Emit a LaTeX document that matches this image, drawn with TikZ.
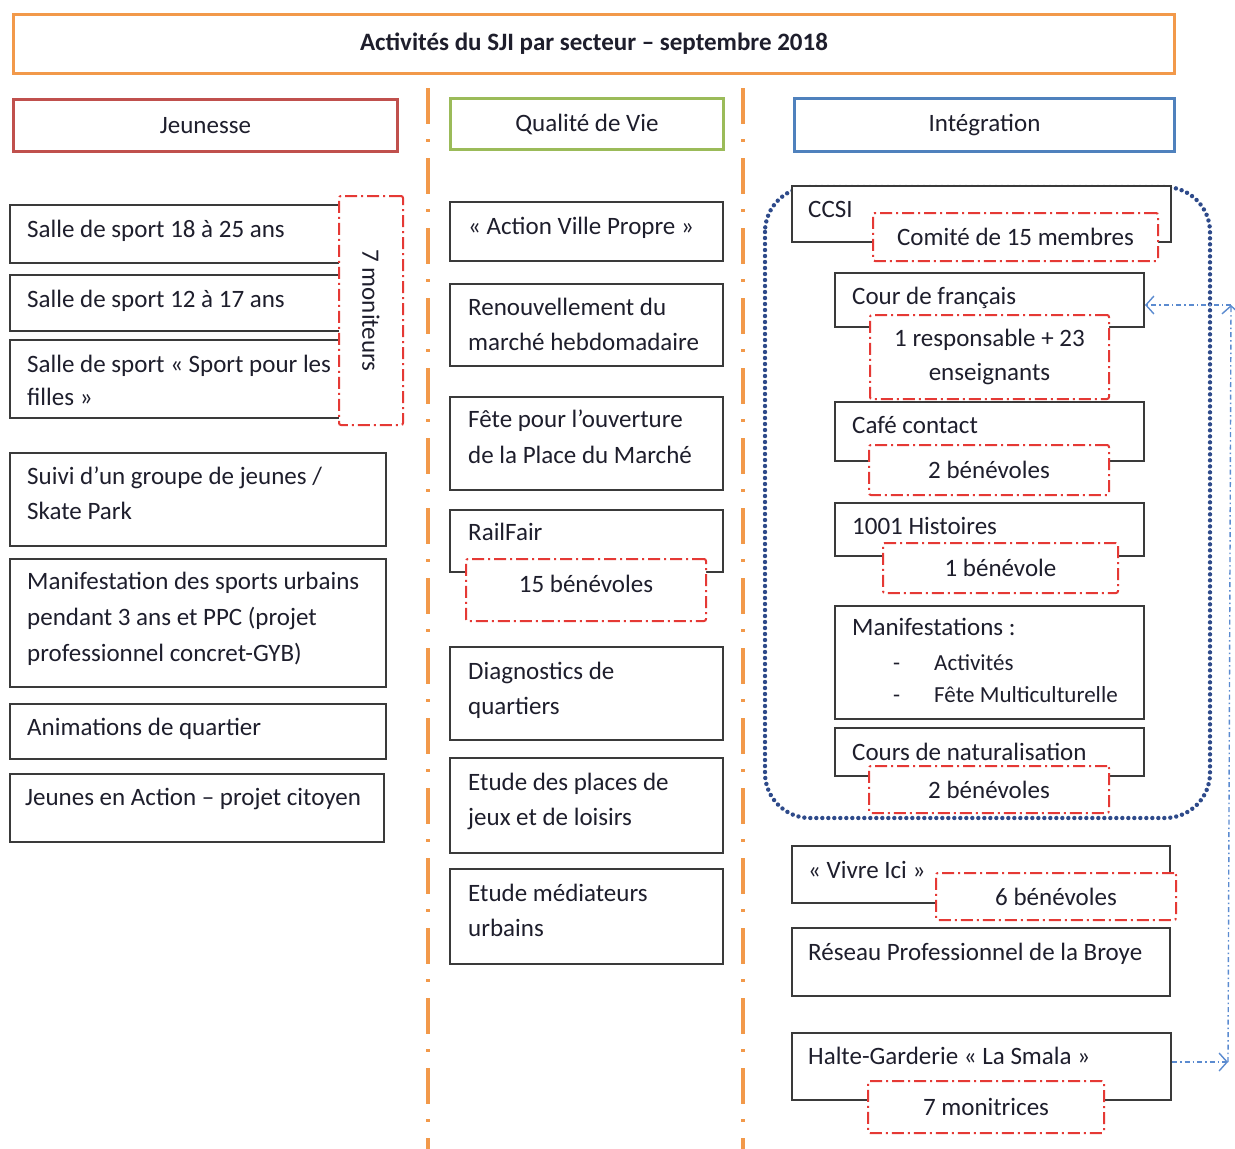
\documentclass[tikz,border=0pt]{standalone}
\usepackage{fontspec}
\setmainfont{Carlito}
\usetikzlibrary{arrows.meta}
\definecolor{orng}{HTML}{F2994A}
\definecolor{hred}{HTML}{C0504D}
\definecolor{hgreen}{HTML}{9BBB59}
\definecolor{hblue}{HTML}{4F81BD}
\definecolor{rdash}{HTML}{E53935}
\definecolor{navy}{HTML}{2E4A8A}
\definecolor{lblue}{HTML}{5B8BD0}
\definecolor{boxgray}{HTML}{3A3A3A}
\definecolor{txt}{HTML}{1E1E2C}
\newcommand\bxt[7]{\node[#1,anchor=north west,minimum width={#5-#3},minimum height={#6-#4}] (#2) at (#3,#4) {#7};}
\begin{document}
\begin{tikzpicture}[x=1pt,y=-1pt,
  every node/.style={text=txt,font=\fontsize{25}{36}\selectfont},
  titlebox/.style={draw=orng,line width=3pt,fill=white,inner sep=0pt},
  headbox/.style={line width=3pt,fill=white,inner sep=0pt},
  blackbox/.style={draw=boxgray,line width=2pt,fill=white,inner sep=0pt},
  redbox/.style={draw=rdash,line width=2pt,fill=white,inner sep=0pt,rounded corners=2pt,
     dash pattern=on 12pt off 4pt on 2pt off 4pt,align=center},
  sep/.style={draw=orng,line width=4pt,dash pattern=on 36pt off 15pt on 3pt off 16pt},
  lbl/.style={anchor=base west,inner sep=0pt,align=left},
  lst/.style={anchor=base west,inner sep=0pt,font=\fontsize{23}{32}\selectfont},
  barrow/.style={draw=lblue,line width=1.4pt,dash pattern=on 5pt off 3pt on 1.5pt off 3pt,
     -{Straight Barb[length=8pt,width=18pt]}}]
\useasboundingbox (0,0) rectangle (1235,1149);
\fill[white] (0,0) rectangle (1235,1149);

% title and headers
\bxt{titlebox}{title}{12}{13}{1173}{72}{\fontsize{25}{30}\selectfont\bfseries Activités du SJI par secteur – septembre 2018}
\bxt{headbox,draw=hred}{hjeu}{12}{98}{396}{150}{Jeunesse}
\bxt{headbox,draw=hgreen}{hqua}{449}{97}{722}{148}{Qualité de Vie}
\bxt{headbox,draw=hblue}{hint}{793}{97}{1173}{150}{Intégration}

% separators
\coordinate (s1a) at (428,88); \coordinate (s1b) at (428,1149);
\coordinate (s2a) at (743,88); \coordinate (s2b) at (743,1149);
\draw[sep] (s1a) -- (s1b);
\draw[sep] (s2a) -- (s2b);

% Jeunesse column
\bxt{blackbox}{j1}{9}{204}{339}{262}{}
\bxt{blackbox}{j2}{9}{274}{339}{330}{}
\bxt{blackbox}{j3}{9}{339}{339}{417}{}
\bxt{redbox}{jmon}{338}{195}{402}{424}{}
\node[rotate=-90,inner sep=0pt] (jmont) at (jmon.center) {7 moniteurs};
\node[lbl] (t1) at (27,237) {Salle de sport 18 à 25 ans};
\node[lbl] (t2) at (27,307) {Salle de sport 12 à 17 ans};
\node[lbl,font=\fontsize{25}{33}\selectfont] (t3) at (27,405) {Salle de sport « Sport pour les\\filles »};
\bxt{blackbox}{j4}{9}{452}{385}{545}{}
\node[lbl,font=\fontsize{25}{35}\selectfont] (t4) at (27,519) {Suivi d’un groupe de jeunes /\\Skate Park};
\bxt{blackbox}{j5}{9}{558}{385}{686}{}
\node[lbl] (t5) at (27,661) {Manifestation des sports urbains\\pendant 3 ans et PPC (projet\\professionnel concret-GYB)};
\bxt{blackbox}{j6}{9}{703}{385}{758}{}
\node[lbl] (t6) at (27,735) {Animations de quartier};
\bxt{blackbox}{j7}{9}{773}{383}{841}{}
\node[lbl] (t7) at (25,805) {Jeunes en Action – projet citoyen};

% Qualite de vie column
\bxt{blackbox}{q1}{449}{201}{722}{260}{}
\node[lbl] (m1) at (468,234) {« Action Ville Propre »};
\bxt{blackbox}{q2}{449}{283}{722}{365}{}
\node[lbl,font=\fontsize{25}{35}\selectfont] (m2) at (468,350) {Renouvellement du\\marché hebdomadaire};
\bxt{blackbox}{q3}{449}{396}{722}{489}{}
\node[lbl] (m3) at (468,463) {Fête pour l’ouverture\\de la Place du Marché};
\bxt{blackbox}{q4}{449}{509}{722}{571}{}
\node[lbl] (m4) at (468,540) {RailFair};
\bxt{redbox,text depth=12pt}{q4r}{465}{558}{705}{620}{15 bénévoles}
\bxt{blackbox}{q5}{449}{646}{722}{739}{}
\node[lbl,font=\fontsize{25}{35}\selectfont] (m5) at (468,714) {Diagnostics de\\quartiers};
\bxt{blackbox}{q6}{449}{757}{722}{852}{}
\node[lbl,font=\fontsize{25}{35}\selectfont] (m6) at (468,825) {Etude des places de\\jeux et de loisirs};
\bxt{blackbox}{q7}{449}{868}{722}{963}{}
\node[lbl,font=\fontsize{25}{35}\selectfont] (m7) at (468,936) {Etude médiateurs\\urbains};

% Integration column
\draw[navy,line width=4.4pt,line cap=round,dash pattern=on 0pt off 6pt,rounded corners=45pt] (765,187) rectangle (1210,818);
\bxt{blackbox}{ccsi}{791}{185}{1170}{241}{}
\node[lbl] (ccsit) at (808,217) {CCSI};
\bxt{redbox}{ccsir}{872}{212}{1157}{260}{Comité de 15 membres}
\bxt{blackbox}{cour}{834}{272}{1143}{326}{}
\node[lbl] (court) at (852,304) {Cour de français};
\bxt{redbox,font=\fontsize{25}{34}\selectfont}{courr}{869}{314}{1108}{398}{1 responsable + 23\\enseignants}
\bxt{blackbox}{cafe}{834}{401}{1143}{460}{}
\node[lbl] (cafet) at (852,433) {Café contact};
\bxt{redbox}{cafer}{868}{444}{1108}{494}{2 bénévoles}
\bxt{blackbox}{hist}{834}{502}{1143}{555}{}
\node[lbl] (histt) at (852,534) {1001 Histoires};
\bxt{redbox}{histr}{882}{542}{1117}{592}{1 bénévole}
\bxt{blackbox}{manif}{834}{605}{1143}{718}{}
\node[lbl] (manift) at (852,635) {Manifestations :};
\node[lst] (d1) at (893,670) {-};
\node[lst] (act) at (934,670) {Activités};
\node[lst] (d2) at (893,702) {-};
\node[lst] (fete) at (934,702) {Fête Multiculturelle};
\bxt{blackbox}{natu}{834}{727}{1143}{775}{}
\node[lbl] (natut) at (852,760) {Cours de naturalisation};
\bxt{redbox}{natur}{868}{765}{1108}{812}{2 bénévoles}
\bxt{blackbox}{vivre}{791}{845}{1169}{902}{}
\node[lbl] (vivret) at (808,878) {« Vivre Ici »};
\bxt{redbox}{vivrer}{935}{872}{1175}{919}{6 bénévoles}
\bxt{blackbox}{reseau}{791}{927}{1169}{995}{}
\node[lbl] (reseaut) at (808,960) {Réseau Professionnel de la Broye};
\bxt{blackbox}{halte}{791}{1032}{1170}{1099}{}
\node[lbl] (haltet) at (808,1064) {Halte-Garderie « La Smala »};
\bxt{redbox}{halter}{867}{1080}{1103}{1132}{7 monitrices}

% blue arrows
\coordinate (ar1) at (1228,1062);
\coordinate (ar2) at (1231,305);
\draw[barrow] (halte.east |- ar1) -- (ar1);
\draw[barrow] (ar1) -- (ar2);
\draw[barrow] (ar2) -- (cour.east |- ar2);
\end{tikzpicture}
\end{document}
